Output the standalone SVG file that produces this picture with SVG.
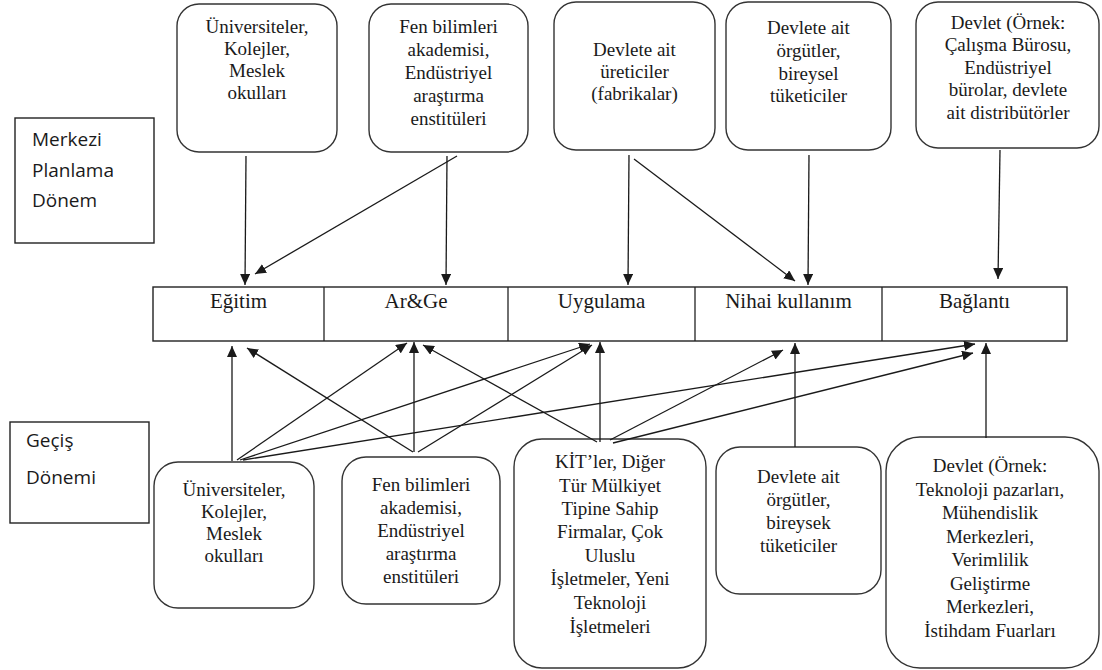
<svg xmlns="http://www.w3.org/2000/svg" width="1102" height="670" viewBox="0 0 1102 670">
<style>
.box{fill:#fff;stroke:#333;stroke-width:1.4}
.sq{fill:#fff;stroke:#222;stroke-width:1.4}
.c line{stroke:#1a1a1a;stroke-width:1.3;marker-end:url(#ah)}
</style>
<defs>
<marker id="ah" markerUnits="userSpaceOnUse" markerWidth="12" markerHeight="10" refX="11" refY="5" orient="auto">
<path d="M0,0 L11,5 L0,10 Z" fill="#1a1a1a"/>
</marker>
</defs>
<rect width="1102" height="670" fill="#fff"/>

<g font-family="Open Sans, Liberation Sans, sans-serif" font-size="19" fill="#1a1a1a">
<g id="merkezi">
<rect class="sq" x="15" y="118" width="139" height="125"/>
<text x="32" y="146">Merkezi</text>
<text x="32" y="177">Planlama</text>
<text x="32" y="207">Dönem</text>
</g>
<g id="gecis">
<rect class="sq" x="10" y="422" width="139" height="101"/>
<text x="26" y="447">Geçiş</text>
<text x="26" y="484">Dönemi</text>
</g>
</g>

<g font-family="Liberation Serif, Times New Roman, serif" font-size="19" fill="#1a1a1a" text-anchor="middle">
<g id="top1">
<rect class="box" x="177" y="4" width="160" height="148" rx="22"/>
<text x="257" y="33">Üniversiteler,</text>
<text x="257" y="55">Kolejler,</text>
<text x="257" y="77">Meslek</text>
<text x="257" y="99">okulları</text>
</g>
<g id="top2">
<rect class="box" x="369" y="4" width="159" height="148" rx="22"/>
<text x="448.5" y="33">Fen bilimleri</text>
<text x="448.5" y="56">akademisi,</text>
<text x="448.5" y="79">Endüstriyel</text>
<text x="448.5" y="102">araştırma</text>
<text x="448.5" y="125">enstitüleri</text>
</g>
<g id="top3">
<rect class="box" x="554" y="2" width="161" height="148" rx="22"/>
<text x="634.5" y="56">Devlete ait</text>
<text x="634.5" y="78">üreticiler</text>
<text x="634.5" y="100">(fabrikalar)</text>
</g>
<g id="top4">
<rect class="box" x="726" y="2" width="165" height="148" rx="22"/>
<text x="808.5" y="34">Devlete ait</text>
<text x="808.5" y="57">örgütler,</text>
<text x="808.5" y="80">bireysel</text>
<text x="808.5" y="102">tüketiciler</text>
</g>
<g id="top5">
<rect class="box" x="916" y="2" width="183" height="146" rx="22"/>
<text x="1008" y="29">Devlet (Örnek:</text>
<text x="1008" y="51">Çalışma Bürosu,</text>
<text x="1008" y="74">Endüstriyel</text>
<text x="1008" y="96">bürolar, devlete</text>
<text x="1008" y="119">ait distribütörler</text>
</g>

<g id="bar" font-size="21">
<rect class="sq" x="153" y="287" width="914" height="54"/>
<line x1="324" y1="287" x2="324" y2="341" stroke="#222" stroke-width="1.3"/>
<line x1="508" y1="287" x2="508" y2="341" stroke="#222" stroke-width="1.3"/>
<line x1="695" y1="287" x2="695" y2="341" stroke="#222" stroke-width="1.3"/>
<line x1="882" y1="287" x2="882" y2="341" stroke="#222" stroke-width="1.3"/>
<text x="238.5" y="308">Eğitim</text>
<text x="416" y="308">Ar&amp;Ge</text>
<text x="601.5" y="308">Uygulama</text>
<text x="788.5" y="308">Nihai kullanım</text>
<text x="974.5" y="308">Bağlantı</text>
</g>

<g id="bot1">
<rect class="box" x="154" y="462" width="160" height="146" rx="24"/>
<text x="234" y="496">Üniversiteler,</text>
<text x="234" y="518">Kolejler,</text>
<text x="234" y="540">Meslek</text>
<text x="234" y="562">okulları</text>
</g>
<g id="bot2">
<rect class="box" x="342" y="457" width="158" height="147" rx="24"/>
<text x="421" y="491">Fen bilimleri</text>
<text x="421" y="514">akademisi,</text>
<text x="421" y="537">Endüstriyel</text>
<text x="421" y="560">araştırma</text>
<text x="421" y="583">enstitüleri</text>
</g>
<g id="bot3">
<rect class="box" x="514" y="439" width="192" height="229" rx="28"/>
<text x="610" y="468">KİT’ler, Diğer</text>
<text x="610" y="492">Tür Mülkiyet</text>
<text x="610" y="515">Tipine Sahip</text>
<text x="610" y="538">Firmalar, Çok</text>
<text x="610" y="562">Uluslu</text>
<text x="610" y="585">İşletmeler, Yeni</text>
<text x="610" y="609">Teknoloji</text>
<text x="610" y="633">İşletmeleri</text>
</g>
<g id="bot4">
<rect class="box" x="716" y="447" width="165" height="147" rx="24"/>
<text x="798.5" y="483">Devlete ait</text>
<text x="798.5" y="506">örgütler,</text>
<text x="798.5" y="529">bireysek</text>
<text x="798.5" y="552">tüketiciler</text>
</g>
<g id="bot5">
<rect class="box" x="886" y="437" width="213" height="231" rx="34"/>
<text x="990" y="472">Devlet (Örnek:</text>
<text x="990" y="496">Teknoloji pazarları,</text>
<text x="990" y="519">Mühendislik</text>
<text x="990" y="543">Merkezleri,</text>
<text x="990" y="566">Verimlilik</text>
<text x="990" y="590">Geliştirme</text>
<text x="990" y="613">Merkezleri,</text>
<text x="990" y="637">İstihdam Fuarları</text>
</g>
</g>

<g id="connectors" class="c">
<line x1="246" y1="156" x2="245" y2="285"/>
<line x1="457" y1="156" x2="255" y2="274"/>
<line x1="447" y1="156" x2="446" y2="285"/>
<line x1="629" y1="155" x2="628" y2="285"/>
<line x1="634" y1="159" x2="795" y2="281"/>
<line x1="809" y1="155" x2="808" y2="285"/>
<line x1="1000" y1="150" x2="998" y2="279"/>

<line x1="232" y1="461" x2="232" y2="346"/>
<line x1="413" y1="452" x2="247" y2="348"/>
<line x1="237" y1="460" x2="407" y2="343"/>
<line x1="414" y1="452" x2="414" y2="342"/>
<line x1="597" y1="442" x2="423" y2="345"/>
<line x1="240" y1="460" x2="590" y2="344"/>
<line x1="418" y1="452" x2="592" y2="345"/>
<line x1="600" y1="442" x2="600" y2="342"/>
<line x1="610" y1="440" x2="783" y2="350"/>
<line x1="795" y1="447" x2="795" y2="343"/>
<line x1="243" y1="460" x2="975" y2="344"/>
<line x1="613" y1="443" x2="973" y2="353"/>
<line x1="986" y1="438" x2="986" y2="343"/>
</g>
</svg>
